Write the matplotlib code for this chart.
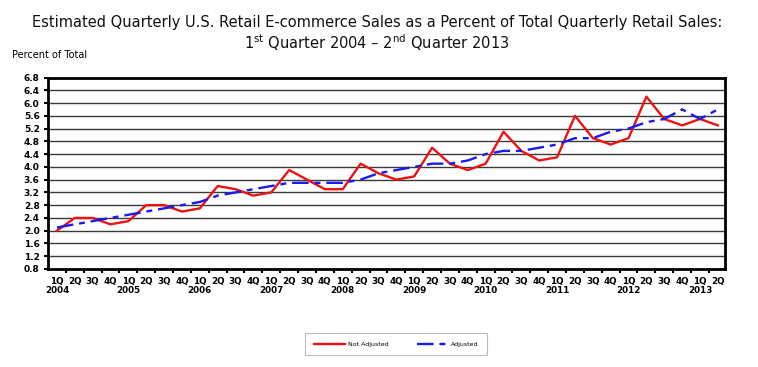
import matplotlib
matplotlib.use("Agg")
import matplotlib.pyplot as plt

# Data (percent of total retail sales), 1Q 2004 - 2Q 2013
quarters = ["1Q", "2Q", "3Q", "4Q"] * 9 + ["1Q", "2Q"]
years = ["2004", "2005", "2006", "2007", "2008", "2009", "2010", "2011", "2012", "2013"]

not_adjusted = [2.0, 2.4, 2.4, 2.2,
                2.3, 2.8, 2.8, 2.6,
                2.7, 3.4, 3.3, 3.1,
                3.2, 3.9, 3.6, 3.3,
                3.3, 4.1, 3.8, 3.6,
                3.7, 4.6, 4.1, 3.9,
                4.1, 5.1, 4.5, 4.2,
                4.3, 5.6, 4.9, 4.7,
                4.9, 6.2, 5.5, 5.3,
                5.5, 5.3]

adjusted = [2.1, 2.2, 2.3, 2.4,
            2.5, 2.6, 2.7, 2.8,
            2.9, 3.1, 3.2, 3.3,
            3.4, 3.5, 3.5, 3.5,
            3.5, 3.6, 3.8, 3.9,
            4.0, 4.1, 4.1, 4.2,
            4.4, 4.5, 4.5, 4.6,
            4.7, 4.9, 4.9, 5.1,
            5.2, 5.4, 5.5, 5.8,
            5.5, 5.8]

y_ticks = [0.8, 1.2, 1.6, 2.0, 2.4, 2.8, 3.2, 3.6, 4.0, 4.4, 4.8, 5.2, 5.6, 6.0, 6.4, 6.8]

x = list(range(len(quarters)))

# tick labels: year under each 1Q
labels = []
yi = 0
for q in quarters:
    if q == "1Q":
        labels.append(q + "\n" + years[yi])
        yi += 1
    else:
        labels.append(q + "\n ")

fig = plt.figure(figsize=(7.58, 3.67), dpi=100)
ax = fig.add_axes([48 / 758, 1 - 269 / 367, (725 - 48) / 758, (269 - 77.5) / 367])

# horizontal grid
for v in y_ticks:
    ax.axhline(v, color="#3a3a3a", linewidth=1.0, zorder=1)

ax.plot(x, not_adjusted, color="#ee1111", linewidth=1.7, label="Not Adjusted", zorder=3)
ax.plot(x, adjusted, color="#1a1aee", linewidth=1.7, linestyle=(0, (7, 2.5, 2.5, 2.5)),
        label="Adjusted", zorder=3)

ax.set_xlim(-0.5, 37.4)
ax.set_ylim(0.8, 6.8)
ax.set_yticks(y_ticks)
ax.set_yticklabels([f"{v:.1f}" for v in y_ticks], fontsize=6.5, fontweight="bold")
ax.set_xticks(x)
ax.set_xticklabels(labels, fontsize=6.3, fontweight="bold", linespacing=1.0)
ax.set_xticks([i + 0.5 for i in x[:-1]], minor=True)
ax.tick_params(axis="x", which="major", length=0, pad=6)
ax.tick_params(axis="x", which="minor", length=3, width=1.5, direction="out")
ax.tick_params(axis="y", length=3, width=1.5, pad=3)

for s in ax.spines.values():
    s.set_linewidth(2)
    s.set_color("black")

fig.text(0.497, 0.94, "Estimated Quarterly U.S. Retail E-commerce Sales as a Percent of Total Quarterly Retail Sales:",
         ha="center", va="center", fontsize=10.5, color="#111111")
fig.text(0.497, 0.885, r"1$^{\rm st}$ Quarter 2004 – 2$^{\rm nd}$ Quarter 2013",
         ha="center", va="center", fontsize=10.5, color="#111111")
fig.text(12 / 758, 1 - 55 / 367, "Percent of Total", ha="left", va="center", fontsize=7)

leg = fig.legend(loc="center", bbox_to_anchor=(396 / 758, 1 - 344 / 367), ncol=2,
                 fontsize=4.5, handlelength=5, columnspacing=4.5, handletextpad=0.5,
                 fancybox=False, edgecolor="#aaaaaa", borderpad=1.3)
leg.get_frame().set_linewidth(0.8)

fig.savefig("out.png", dpi=100)
